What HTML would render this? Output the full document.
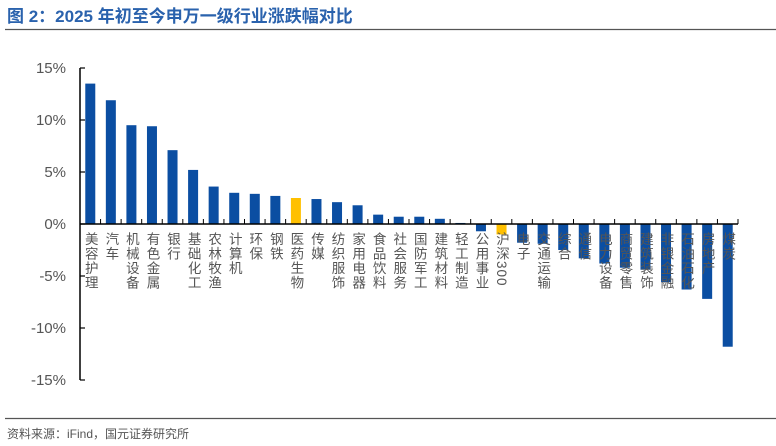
<!DOCTYPE html>
<html><head><meta charset="utf-8"><style>
html,body{margin:0;padding:0;background:#fff;width:776px;height:446px;overflow:hidden}
</style></head><body>
<svg width="776" height="446" xmlns="http://www.w3.org/2000/svg" font-family="'Liberation Sans','Noto Sans CJK SC',sans-serif">
<text x="7" y="22" font-size="17" font-weight="bold" fill="#2a62ad">图 2：2025 年初至今申万一级行业涨跌幅对比</text>
<line x1="5" y1="29.5" x2="776" y2="29.5" stroke="#555" stroke-width="1.2"/>
<line x1="5" y1="418.5" x2="776" y2="418.5" stroke="#555" stroke-width="1.2"/>
<text x="7" y="438" font-size="12" fill="#555">资料来源：iFind，国元证券研究所</text>
<g id="plot"></g>
</svg>
<script>
const categories=["美容护理","汽车","机械设备","有色金属","银行","基础化工","农林牧渔","计算机","环保","钢铁","医药生物","传媒","纺织服饰","家用电器","食品饮料","社会服务","国防军工","建筑材料","轻工制造","公用事业","沪深300","电子","交通运输","综合","通信","电力设备","商贸零售","建筑装饰","非银金融","石油石化","房地产","煤炭"];
const values=[13.5,11.9,9.5,9.4,7.1,5.2,3.6,3.0,2.9,2.7,2.5,2.4,2.1,1.8,0.9,0.7,0.7,0.5,0.1,-0.7,-1.0,-1.8,-1.9,-2.5,-3.3,-3.8,-4.2,-4.4,-5.6,-6.3,-7.2,-11.8];
const highlight=["医药生物","沪深300"];
const yTicks=[15,10,5,0,-5,-10,-15];
const NS="http://www.w3.org/2000/svg";
const g=document.getElementById('plot');
const x0=80,x1=738,yTop=68,yBot=380,vMax=15,vMin=-15;
const y=v=>yTop+(vMax-v)/(vMax-vMin)*(yBot-yTop);
const step=(x1-x0)/categories.length;
const xc=i=>x0+step*(i+0.5);
function el(t,a){const e=document.createElementNS(NS,t);for(const k in a)e.setAttribute(k,a[k]);g.appendChild(e);return e;}
const ax=el('line',{x1:x0,y1:yTop,x2:x0,y2:yBot,stroke:'#000','stroke-width':1.5});


yTicks.forEach(t=>{
  const tk=el('line',{x1:x0,y1:y(t),x2:x0+5,y2:y(t),stroke:'#000','stroke-width':1.2});
  
  
  const lb=el('text',{x:66,y:y(t)+5,'font-size':15,fill:'#555','text-anchor':'end'});
  lb.textContent=t+'%';
  
  
});
categories.forEach((c,i)=>{
  const v=values[i];
  const top=Math.min(y(v),y(0)),h=Math.abs(y(v)-y(0));
  const b=el('rect',{x:xc(i)-5,y:top,width:10,height:Math.max(h,0.8),fill:highlight.includes(c)?'#ffc000':'#0b4ea2'});
  
  
  const tk=el('line',{x1:x0+step*(i+1),y1:y(0),x2:x0+step*(i+1),y2:y(0)-5,stroke:'#000','stroke-width':1});
  
  
  const lb=el('text',{x:xc(i),y:232,'font-size':13.5,fill:'#555','writing-mode':'tb','glyph-orientation-vertical':0,'text-anchor':'start'});
  lb.setAttribute('style','writing-mode:vertical-rl;letter-spacing:1px');
  lb.textContent=c;
  
  
});
const zl=el('line',{x1:x0,y1:y(0),x2:x1,y2:y(0),stroke:'#000','stroke-width':1.5});


</script>
</body></html>
